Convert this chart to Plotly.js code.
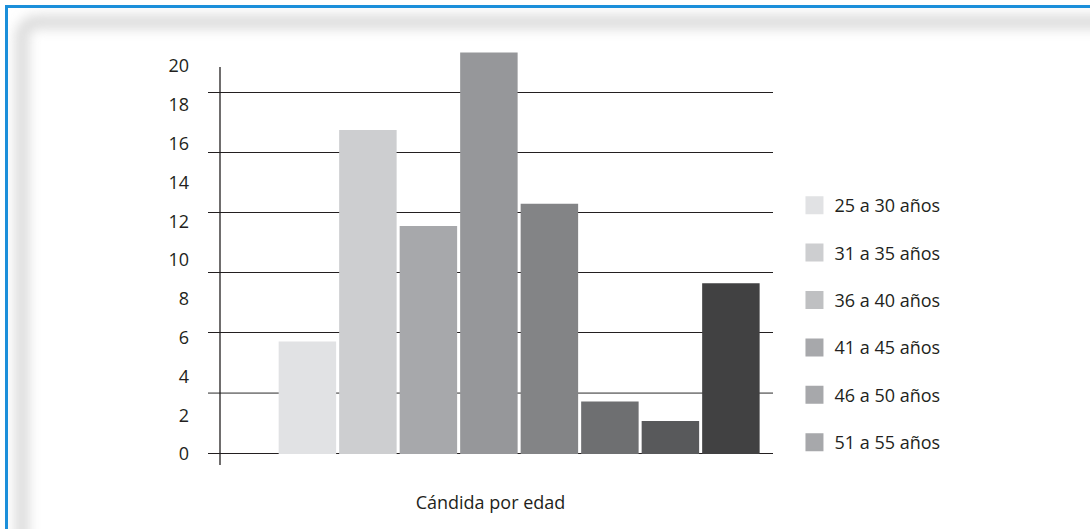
<!DOCTYPE html>
<html>
<head>
<meta charset="utf-8">
<script src="https://cdn.plot.ly/plotly-3.0.1.min.js"></script>
<style>
  html, body { margin: 0; padding: 0; background: #ffffff; overflow: hidden; }
  #frame {
    position: absolute; left: 0; top: 0; width: 1090px; height: 529px; overflow: hidden;
  }
  #edge {
    position: absolute; left: 5px; top: 5px; width: 1200px; height: 700px;
    border-left: 3px solid #1b8fda; border-top: 3px solid #1b8fda;
  }
  #glow {
    position: absolute; left: 15px; top: 15px; width: 1200px; height: 700px;
    border: 14px solid #dcdcdc; border-radius: 22px; filter: blur(6px);
  }
  #chart { position: absolute; left: 0; top: 0; width: 1090px; height: 529px; }
</style>
</head>
<body>
<div id="frame">
  <div id="glow"></div>
  <div id="edge"></div>
</div>
<div id="chart"></div>
<script>
// Candidates by age group
const groups = ['25 a 30 años', '31 a 35 años', '36 a 40 años', '41 a 45 años',
                '46 a 50 años', '51 a 55 años', '56 a 60 años', '61 a 65 años'];
const counts = [5.8, 16.7, 11.75, 20.7, 12.9, 2.7, 1.7, 8.8];
const barColors = ['#e1e2e4', '#cdced0', '#a7a8ab', '#96979a',
                   '#838486', '#6e6f71', '#58595b', '#414142'];

// Legend entries
const legendLabels = ['25 a 30 años', '31 a 35 años', '36 a 40 años',
                      '41 a 45 años', '46 a 50 años', '51 a 55 años'];
const legendColors = ['#e1e2e4', '#cdced0', '#bfc0c2', '#a7a8ab', '#a7a8ab', '#a7a8ab'];

// Axis labels and guide lines
const yTicks = [0, 2, 4, 6, 8, 10, 12, 14, 16, 18, 20];
const guideLines = [0, 6, 9, 12, 15, 18];
const softGuide = 3;
const xTitle = 'Cándida por edad';

const ink = '#231f20';
const font = 'Open Sans, Noto Sans, sans-serif';

const traces = [{
  type: 'bar',
  x: groups,
  y: counts,
  marker: { color: barColors, line: { width: 0 } },
  showlegend: false,
  hoverinfo: 'x+y'
}];

legendLabels.forEach((name, i) => {
  traces.push({
    type: 'scatter',
    mode: 'markers',
    x: [null],
    y: [null],
    name: name,
    legendgroup: 'g' + i,
    marker: { symbol: 'square', size: 16, color: legendColors[i],
              line: { width: 2, color: legendColors[i] } },
    hoverinfo: 'skip'
  });
});

// plot area: 40 px top margin, 425 px tall
const plotH = 529 - 40 - 64;

const layout = {
  width: 1090,
  height: 529,
  margin: { l: 208, r: 317, t: 40, b: 64 },
  paper_bgcolor: 'rgba(0,0,0,0)',
  plot_bgcolor: 'rgba(0,0,0,0)',
  font: { family: font, size: 18, color: ink },
  bargap: 0.05,
  xaxis: {
    type: 'category',
    range: [-1.643, 7.696],
    showticklabels: false,
    showgrid: false,
    zeroline: false,
    showline: false,
    ticks: '',
    title: { text: xTitle, font: { family: font, size: 18, color: ink }, standoff: 31 }
  },
  yaxis: {
    range: [-0.567, 21.34],
    tickvals: yTicks,
    ticktext: yTicks.map(String),
    showgrid: false,
    zeroline: false,
    showline: false,
    ticks: '',
    ticklabelstandoff: 18,
    tickfont: { family: font, size: 18, color: ink }
  },
  yaxis2: {
    overlaying: 'y',
    side: 'left',
    range: [-0.583, 20.6],
    tickvals: guideLines,
    showticklabels: false,
    showgrid: true,
    gridcolor: ink,
    gridwidth: 1.3,
    zeroline: false,
    showline: false,
    ticks: ''
  },
  legend: {
    x: 1.038,
    xanchor: 'left',
    y: (465 - 187) / plotH,
    yanchor: 'top',
    tracegroupgap: 21,
    bgcolor: 'rgba(0,0,0,0)',
    font: { family: font, size: 18, color: ink }
  },
  shapes: [
    { type: 'line', xref: 'paper', x0: 0, x1: 1, yref: 'y2', y0: softGuide, y1: softGuide,
      line: { color: '#858585', width: 1.6 }, layer: 'below' },
    { type: 'line', xref: 'paper', x0: 0.02124, x1: 0.02124, yref: 'paper',
      y0: 0, y1: (465 - 67) / plotH,
      line: { color: ink, width: 1.3 }, layer: 'above' }
  ]
};

// empty trace on y2 so the guide axis is active
traces.push({ type: 'scatter', x: [], y: [], yaxis: 'y2', showlegend: false, hoverinfo: 'skip' });

Plotly.newPlot('chart', traces, layout, { displayModeBar: false, responsive: false });
</script>
</body>
</html>
